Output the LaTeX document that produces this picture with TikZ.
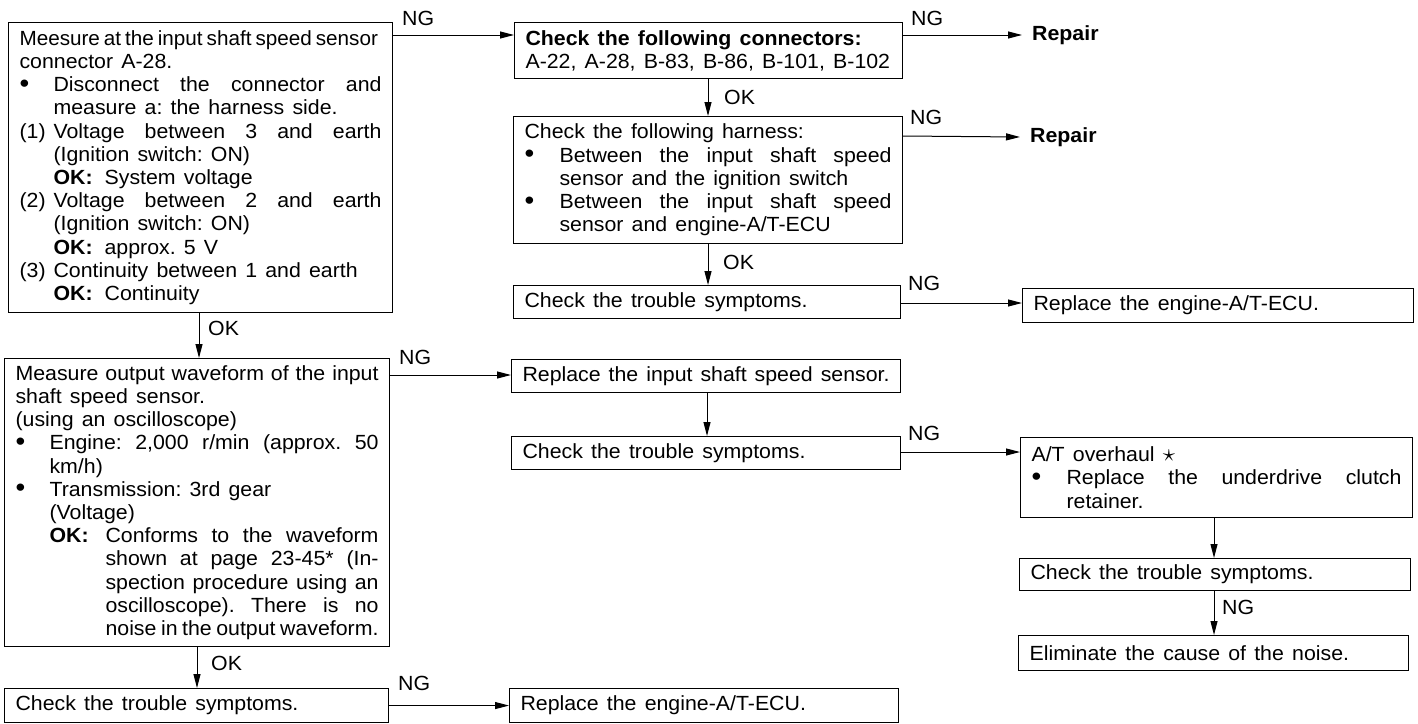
\documentclass[tikz,border=0pt]{standalone}
\usepackage{graphicx}
\usepackage{fontspec}
\setmainfont{Liberation Sans}[FakeStretch=1.04]
\usetikzlibrary{arrows.meta}
\setlength{\parindent}{0pt}
\hyphenpenalty=10000
\tolerance=9999
\frenchspacing
\newcommand{\hng}[2]{\par\noindent\hangindent=#1\hangafter=1\makebox[#1][l]{#2}\ignorespaces}
\newcommand{\bul}{\raisebox{-0.5pt}{\scalebox{1.3}{\textbullet}}}
\newcommand{\bxfont}{\fontsize{20.5}{23.2}\selectfont\spaceskip=0.4em plus 0.3em minus 0.2em\relax}
\tikzset{
 box/.style={draw, line width=1.1pt, anchor=north west, inner xsep=11pt, inner ysep=6pt, font=\bxfont, align=justify},
 arr/.style={line width=1pt, -{Triangle[length=14pt,width=7pt]}},
 lbl/.style={font=\bxfont, inner sep=0pt},
}
\begin{document}
\begin{tikzpicture}[x=1pt,y=-1pt]
\useasboundingbox (0,0) rectangle (1418,723);
% boxes
\node[box, text width=362pt, minimum height=290pt] (b1) at (8,22) {%
\makebox[362pt][l]{\scalebox{0.97}[1]{\spaceskip=0.2em\relax Meesure at the input shaft speed sensor}}\par
connector A-28.\par
\hng{34pt}{\bul}Disconnect the connector and\linebreak measure a: the harness side.\par
\hng{34pt}{(1)}Voltage between 3 and earth\linebreak (Ignition switch: ON)\par
\hng{34pt}{}\textbf{OK:}\hspace{12pt}System voltage\par
\hng{34pt}{(2)}Voltage between 2 and earth\linebreak (Ignition switch: ON)\par
\hng{34pt}{}\textbf{OK:}\hspace{12pt}approx. 5 V\par
\hng{34pt}{(3)}Continuity between 1 and earth\par
\hng{34pt}{}\textbf{OK:}\hspace{12pt}Continuity\par};
\node[box, text width=366pt, minimum height=56pt] (b2) at (514,22) {%
\textbf{Check the following connectors:}\par
A-22, A-28, B-83, B-86, B-101, B-102\par};
\node[box, text width=367pt, minimum height=127pt] (b3) at (513,116) {%
Check the following harness:\par
\hng{35pt}{\bul}Between the input shaft speed\linebreak sensor and the ignition switch\par
\hng{35pt}{\bul}Between the input shaft speed\linebreak sensor and engine-A/T-ECU\par};
\node[box, text width=365pt, minimum height=33pt] (b4) at (513,285) {Check the trouble symptoms.};
\node[box, text width=369pt, minimum height=34pt] (b5) at (1022,288) {Replace the engine-A/T-ECU.};
\node[box, text width=363pt, minimum height=288pt] (b6) at (4,358) {%
Measure output waveform of the input\linebreak shaft speed sensor.\par
(using an oscilloscope)\par
\hng{34pt}{\bul}Engine: 2,000 r/min (approx. 50\linebreak km/h)\par
\hng{34pt}{\bul}Transmission: 3rd gear\par
\hng{34pt}{}(Voltage)\par
\hng{90pt}{\hspace{34pt}\textbf{OK:}}Conforms to the waveform\linebreak shown at page 23-45* (In-\linebreak spection procedure using an\linebreak oscilloscope). There is no\linebreak noise in the output waveform.\par};
\node[box, text width=367pt, minimum height=33pt] (b7) at (511,359) {Replace the input shaft speed sensor.};
\node[box, text width=367pt, minimum height=33pt] (b8) at (511,436) {Check the trouble symptoms.};
\node[box, text width=370pt, minimum height=80pt] (b9) at (1020,437) {%
A/T overhaul \scalebox{1.2}{$\star$}\par
\hng{35pt}{\bul}Replace the underdrive clutch\linebreak retainer.\par};
\node[box, text width=369pt, minimum height=32pt] (b10) at (1019,558) {Check the trouble symptoms.};
\node[box, text width=368pt, minimum height=35pt] (b11) at (1018,635) {Eliminate the cause of the noise.};
\node[box, text width=362pt, minimum height=34pt] (b12) at (4,688) {Check the trouble symptoms.};
\node[box, text width=367pt, minimum height=34pt] (b13) at (509,688) {Replace the engine-A/T-ECU.};
% repair targets
\node[lbl, anchor=west, inner xsep=10pt, font=\bxfont\bfseries] (r1) at (1022,35) {Repair};
\node[lbl, anchor=west, inner xsep=10pt, font=\bxfont\bfseries] (r2) at (1020,137) {Repair};
% guide coordinates
\coordinate (h1) at (0,35);
\coordinate (h3) at (0,136);
\coordinate (h4) at (0,303);
\coordinate (h6) at (0,375);
\coordinate (h8) at (0,452);
\coordinate (v1) at (199,0);
\coordinate (v2) at (708,0);
\coordinate (v3) at (707,0);
\coordinate (v4) at (1214,0);
\coordinate (v6) at (197,0);
% connectors
\draw[arr] (b1.east |- h1) -- (b2.west |- h1);
\draw[arr] (b2.east |- h1) -- (r1.west);
\draw[arr] (b2.south -| v2) -- (b3.north -| v2);
\draw[arr] (b3.east |- h3) -- (r2.west);
\draw[arr] (b3.south -| v2) -- (b4.north -| v2);
\draw[arr] (b4.east |- h4) -- (b5.west |- h4);
\draw[arr] (b1.south -| v1) -- (b6.north -| v1);
\draw[arr] (b6.east |- h6) -- (b7.west |- h6);
\draw[arr] (b7.south -| v3) -- (b8.north -| v3);
\draw[arr] (b8.east |- h8) -- (b9.west |- h8);
\draw[arr] (b9.south -| v4) -- (b10.north -| v4);
\draw[arr] (b10.south -| v4) -- (b11.north -| v4);
\draw[arr] (b6.south -| v6) -- (b12.north -| v6);
\draw[arr] (b12.east) -- (b13.west);
% labels
\node[lbl, anchor=west] (n1) at (402,18) {NG};
\node[lbl, anchor=west] (n2) at (911,18) {NG};
\node[lbl, anchor=west] (n3) at (910,117) {NG};
\node[lbl, anchor=west] (n4) at (908,283) {NG};
\node[lbl, anchor=west] (n6) at (399,357) {NG};
\node[lbl, anchor=west] (n8) at (908,433) {NG};
\node[lbl, anchor=west] (n10) at (1222,607) {NG};
\node[lbl, anchor=west] (n12) at (398,683) {NG};
\node[lbl, anchor=west] (o1) at (208,328) {OK};
\node[lbl, anchor=west] (o2) at (724,97) {OK};
\node[lbl, anchor=west] (o3) at (723,262) {OK};
\node[lbl, anchor=west] (o6) at (211,663) {OK};
\end{tikzpicture}
\end{document}
